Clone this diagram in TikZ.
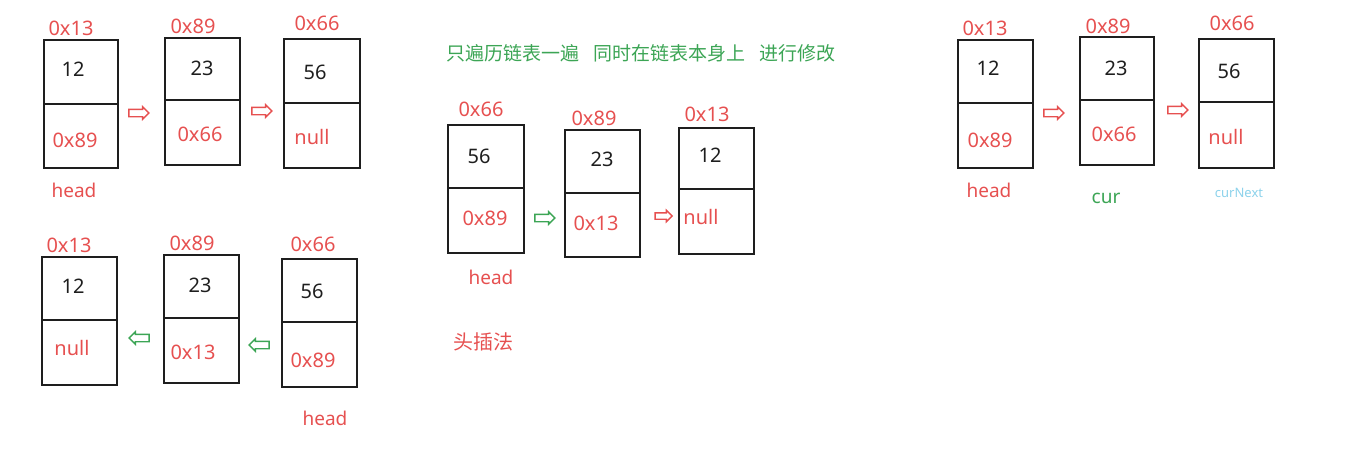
\documentclass[tikz,border=0pt]{standalone}
\usepackage{fontspec}
\setmainfont{Noto Sans}
\newfontfamily\cjk{Noto Sans CJK SC}
\usetikzlibrary{shapes.arrows}
\definecolor{lred}{RGB}{230,80,80}
\definecolor{lgreen}{RGB}{60,165,85}
\definecolor{lblue}{RGB}{140,210,235}
\definecolor{dk}{RGB}{30,30,30}
\tikzset{
 cell/.style={draw=dk, line width=1.6pt, inner sep=0pt, rectangle},
 addr/.style={text=lred, font=\fontsize{20}{20}\selectfont, inner sep=0pt},
 val/.style={text=dk, font=\fontsize{20}{20}\selectfont, inner sep=0pt},
 lbl/.style={font=\fontsize{19}{19}\selectfont, inner sep=0pt},
 blk/.style={shape=single arrow, draw=#1, line width=1.4pt, minimum height=20pt, minimum width=12pt, inner sep=3pt, single arrow head extend=2.5pt},
 rarr/.style={blk=#1},
 larr/.style={blk=#1, shape border rotate=180},
}
\newcommand\llbox[6]{%
 \pgfmathsetmacro\wA{#5-#2}\pgfmathsetmacro\hA{#4-#3}\pgfmathsetmacro\hB{#6-#4}%
 \node[cell,minimum width=\wA pt,minimum height=\hA pt,anchor=north west] (#1t) at (#2,#3) {};
 \node[cell,minimum width=\wA pt,minimum height=\hB pt,anchor=north west] (#1b) at (#2,#4) {};}
\begin{document}
\begin{tikzpicture}[x=1pt,y=-1pt]
\useasboundingbox (0,0) rectangle (1350,448);
% ---------- group 1 (top left)
\llbox{a1}{43}{39}{103}{117}{167}
\llbox{a2}{164}{37}{99}{239}{164}
\llbox{a3}{283}{38}{102}{359}{167}
\node[addr] (a1l) at (71,28) {0x13};
\node[addr] (a2l) at (193,26) {0x89};
\node[addr] (a3l) at (317,23) {0x66};
\node[val] (a1v) at (73,69) {12};
\node[val] (a2v) at (202,68) {23};
\node[val] (a3v) at (315,72) {56};
\node[addr] (a1n) at (75,140) {0x89};
\node[addr] (a2n) at (200,134) {0x66};
\node[addr] (a3n) at (312,137) {null};
\node[lbl,text=lred] (a1h) at (74,190) {head};
\node[rarr=lred] (a12) at (137,113) {};
\node[rarr=lred] (a23) at (260,111) {};
% ---------- group 2 (bottom left)
\llbox{b1}{41}{256}{319}{116}{384}
\llbox{b2}{163}{254}{317}{238}{382}
\llbox{b3}{281}{258}{321}{356}{386}
\node[addr] (b1l) at (69,245) {0x13};
\node[addr] (b2l) at (192,243) {0x89};
\node[addr] (b3l) at (313,244) {0x66};
\node[val] (b1v) at (73,286) {12};
\node[val] (b2v) at (200,285) {23};
\node[val] (b3v) at (312,291) {56};
\node[addr] (b1n) at (72,348) {null};
\node[addr] (b2n) at (193,352) {0x13};
\node[addr] (b3n) at (313,360) {0x89};
\node[lbl,text=lred] (b3h) at (325,418) {head};
\node[larr=lgreen] (b21) at (141,338) {};
\node[larr=lgreen] (b32) at (261,345) {};
% ---------- group 3 (middle)
\node[inner sep=0pt,text=lgreen,font=\cjk\fontsize{19}{19}\selectfont,anchor=west] (title) at (446,53) {只遍历链表一遍\hspace{14pt}同时在链表本身上\hspace{14pt}进行修改};
\llbox{c1}{447}{124}{187}{523}{252}
\llbox{c2}{564}{129}{192}{639}{256}
\llbox{c3}{678}{127}{188}{753}{253}
\node[addr] (c1l) at (481,109) {0x66};
\node[addr] (c2l) at (594,118) {0x89};
\node[addr] (c3l) at (707,114) {0x13};
\node[val] (c1v) at (479,156) {56};
\node[val] (c2v) at (602,159) {23};
\node[val] (c3v) at (710,155) {12};
\node[addr] (c1n) at (485,218) {0x89};
\node[addr] (c2n) at (596,223) {0x13};
\node[addr] (c3n) at (701,217) {null};
\node[lbl,text=lred] (c1h) at (491,277) {head};
\node[inner sep=0pt,text=lred,font=\cjk\fontsize{20}{20}\selectfont] (tcf) at (483,342) {头插法};
\node[rarr=lgreen] (c12) at (543,218) {};
\node[rarr=lred, minimum height=17pt, minimum width=10pt, inner sep=2.5pt] (c23) at (662,216) {};
% ---------- group 4 (right)
\llbox{d1}{957}{39}{102}{1032}{167}
\llbox{d2}{1079}{36}{99}{1153}{164}
\llbox{d3}{1198}{38}{101}{1273}{167}
\node[addr] (d1l) at (985,28) {0x13};
\node[addr] (d2l) at (1108,26) {0x89};
\node[addr] (d3l) at (1232,23) {0x66};
\node[val] (d1v) at (988,68) {12};
\node[val] (d2v) at (1116,68) {23};
\node[val] (d3v) at (1229,71) {56};
\node[addr] (d1n) at (990,140) {0x89};
\node[addr] (d2n) at (1114,134) {0x66};
\node[addr] (d3n) at (1226,137) {null};
\node[lbl,text=lred] (d1h) at (989,190) {head};
\node[lbl,text=lgreen] (d2c) at (1106,198) {cur};
\node[inner sep=0pt,text=lblue,font=\fontsize{13}{13}\selectfont] (d3c) at (1239,193) {curNext};
\node[rarr=lred] (d12) at (1052,113) {};
\node[rarr=lred] (d23) at (1176,110) {};
\end{tikzpicture}
\end{document}
